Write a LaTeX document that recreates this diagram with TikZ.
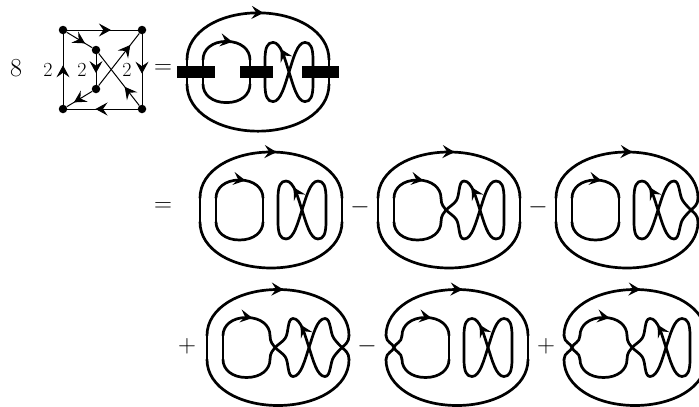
\documentclass[tikz,border=0pt]{standalone}
\usetikzlibrary{arrows.meta,decorations.markings}
\tikzset{
    thickline/.style={line width=2.7pt,line cap=round,line join=round},
    thinline/.style={line width=1pt},
    vertex/.style={circle,fill=black,inner sep=0pt,minimum size=8.5pt},
    arrowat/.style={postaction={decorate,decoration={markings,
        mark=at position #1 with {\arrow{Stealth[length=12pt,width=13pt,inset=4.5pt]}}}}},
    bigsign/.style={font=\fontsize{26}{26}\selectfont,inner sep=0pt},
    smalltwo/.style={font=\fontsize{20}{20}\selectfont,inner sep=0pt},
}
% the two strands of one gap, plain crossing
\newcommand{\crossgap}[2]{
    \draw[thickline](#1,12).. controls (#1,5) and ({.3*#1+.2*#2+.5*(#1+#2)/2},4) ..({(#1+#2)/2},0)
        .. controls ({.3*#2+.2*#1+.5*(#1+#2)/2},-4) and (#2,-5) ..(#2,-12);
    \draw[thickline](#2,12).. controls (#2,5) and ({.3*#2+.2*#1+.5*(#1+#2)/2},4) ..({(#1+#2)/2},0)
        .. controls ({.3*#1+.2*#2+.5*(#1+#2)/2},-4) and (#1,-5) ..(#1,-12);
}
\newcommand{\ovalgraph}[4]{
    \begin{scope}[#1]
        % outer line
        \draw[thickline,arrowat=.53](-71,12).. controls (-71,40) and (-38,58) ..(0,58)
            .. controls (38,58) and (71,40) ..(71,12);
        \draw[thickline](-71,-12).. controls (-71,-40) and (-38,-58) ..(0,-58)
            .. controls (38,-58) and (71,-40) ..(71,-12);
        % round loop
        \draw[thickline,arrowat=.59](-55,12).. controls (-55,22) and (-46,30) ..(-31.5,30)
            .. controls (-17,30) and (-8,22) ..(-8,12);
        \draw[thickline](-55,-12).. controls (-55,-22) and (-46,-30) ..(-31.5,-30)
            .. controls (-17,-30) and (-8,-22) ..(-8,-12);
        % figure eight, middle strands
        \draw[thickline,arrowat=.85](47,-29).. controls (39,-29) and (35,-12) ..(31,0)
            .. controls (27,12) and (23,29) ..(15,29);
        \draw[thickline](15,-29).. controls (23,-29) and (27,-12) ..(31,0)
            .. controls (35,12) and (39,29) ..(47,29);
        % left gap
        \ifnum#2=1
            \crossgap{-71}{-55}
        \else
            \draw[thickline](-71,12)--(-71,-12);
            \draw[thickline](-55,12)--(-55,-12);
        \fi
        % middle gap
        \ifnum#3=1
            \foreach \ysign in {1,-1}{
                \draw[thickline,yscale=\ysign](15,29).. controls (9,29) and (11,14) ..(7,9)
                    .. controls (5,6) and (0,3) ..(-3,0).. controls (-5,-3) and (-8,-5) ..(-8,-12);
            }
        \else
            \draw[thickline](-8,12)--(-8,-12);
            \draw[thickline](15,29).. controls (9.5,29) and (7,24) ..(7,12)--(7,-12)
                .. controls (7,-24) and (9.5,-29) ..(15,-29);
        \fi
        % right gap
        \ifnum#4=1
            \foreach \ysign in {1,-1}{
                \draw[thickline,yscale=\ysign](47,29).. controls (53,29) and (52,14) ..(56,9)
                    .. controls (58,6) and (61,3) ..(64,0).. controls (67,-3) and (71,-5) ..(71,-12);
            }
        \else
            \draw[thickline](71,12)--(71,-12);
            \draw[thickline](47,29).. controls (52.5,29) and (55,24) ..(55,12)--(55,-12)
                .. controls (55,-24) and (52.5,-29) ..(47,-29);
        \fi
    \end{scope}
}
\begin{document}
\begin{tikzpicture}[x=1pt,y=1pt]
    \useasboundingbox(0,0)rectangle(699,-407);
    % square graph
    \node[vertex](TL)at(63,-30){};
    \node[vertex](TR)at(142,-30){};
    \node[vertex](BL)at(63,-109){};
    \node[vertex](BR)at(142,-109){};
    \node[vertex](IT)at(96,-50){};
    \node[vertex](IB)at(96,-89){};
    \draw[thinline,arrowat=.62](TL)--(TR);
    \draw[thinline,arrowat=.56](TR)--(BR);
    \draw[thinline,arrowat=.6](BR)--(BL);
    \draw[thinline,arrowat=.56](BL)--(TL);
    \draw[thinline,arrowat=.62](IT)--(IB);
    \draw[thinline,arrowat=.72](TL)--(IT);
    \draw[thinline,arrowat=.36](BR)--(IT);
    \draw[thinline,arrowat=.78](IB)--(TR);
    \draw[thinline,arrowat=.72](IB)--(BL);
    \node[bigsign](eight)at(16,-68){8};
    \node[smalltwo](twoA)at(48,-70){2};
    \node[smalltwo](twoB)at(82,-70){2};
    \node[smalltwo](twoC)at(127,-70){2};
    % first line
    \node[bigsign](eqA)at(163,-69){$=$};
    \ovalgraph{shift={(258,-72)},yscale=1.02}{0}{0}{0}
    \foreach \xa/\xb in {177/215,240/273,302/339}{
        \fill[black](\xa,-66)rectangle(\xb,-78);
    }
    % second line
    \node[bigsign](eqB)at(163,-207){$=$};
    \ovalgraph{shift={(271,-210)}}{0}{0}{0}
    \node[bigsign](minA)at(360,-207){$-$};
    \ovalgraph{shift={(449,-210)}}{0}{1}{0}
    \node[bigsign](minB)at(538,-207){$-$};
    \ovalgraph{shift={(627,-210)}}{0}{0}{1}
    % third line
    \node[bigsign](plusA)at(187,-346){$+$};
    \ovalgraph{shift={(278,-347.5)}}{0}{1}{1}
    \node[bigsign](minC)at(367,-346){$-$};
    \ovalgraph{shift={(457,-347.5)}}{1}{0}{0}
    \node[bigsign](plusB)at(546,-346){$+$};
    \ovalgraph{shift={(635,-347.5)}}{1}{1}{0}
\end{tikzpicture}
\end{document}
